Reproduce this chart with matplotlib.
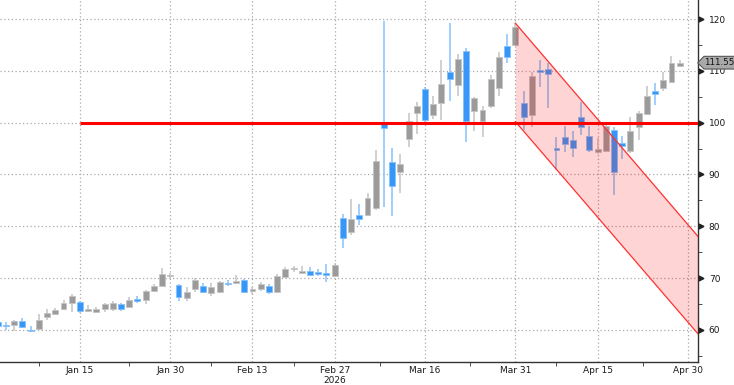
import matplotlib
matplotlib.use("Agg")
import matplotlib.pyplot as plt
from matplotlib.patches import Polygon

# daily OHLC, one entry per trading day (Jan 1 .. Apr 29, 2026)
opens = [61.5, 60.95, 60.9, 61.7, 59.95, 60.2, 62.5, 63.1, 64.0, 65.3,
         65.4, 63.6, 63.5, 64.0, 64.0, 65.1, 64.5, 66.0, 65.7, 67.6,
         68.5, 70.35, 68.7, 66.1, 68.0, 68.5, 67.2, 67.3, 69.1, 69.1,
         69.6, 67.5, 68.0, 68.5, 67.3, 70.3, 71.75, 71.0, 71.4, 71.2,
         71.0, 70.5, 81.55, 79.0, 82.1, 82.2, 83.5, 99.9, 92.5, 90.4,
         96.9, 101.8, 106.55, 101.4, 103.8, 109.7, 107.2, 113.8, 102.3, 100.3,
         103.3, 106.6, 114.7, 115.0, 103.7, 101.5, 110.1, 110.35, 95.05, 97.2,
         96.7, 101.0, 97.5, 94.3, 94.6, 98.5, 96.0, 94.6, 99.2, 101.7,
         106.2, 106.6, 107.9, 110.9]
highs = [61.7, 61.6, 61.9, 62.3, 60.8, 63.0, 64.0, 64.3, 65.8, 66.9,
         65.65, 64.8, 64.4, 65.2, 65.5, 65.3, 66.3, 66.6, 67.7, 68.8,
         72.0, 70.9, 68.9, 68.2, 70.0, 69.0, 69.0, 69.5, 69.6, 70.7,
         69.8, 68.2, 69.2, 68.8, 70.8, 72.2, 72.4, 72.4, 72.1, 71.7,
         72.7, 73.0, 82.4, 85.2, 84.4, 86.5, 94.7, 119.6, 95.2, 93.9,
         101.9, 104.05, 106.8, 105.1, 112.0, 119.2, 113.25, 114.5, 104.9, 103.3,
         109.2, 113.6, 117.1, 119.2, 106.1, 109.7, 112.0, 111.6, 97.3, 99.45,
         98.3, 104.05, 99.45, 97.0, 99.6, 99.1, 97.4, 101.0, 102.3, 107.0,
         107.6, 109.7, 112.9, 112.1]
lows = [60.6, 59.9, 59.8, 60.4, 59.7, 60.0, 61.9, 62.9, 63.8, 63.5,
        63.3, 63.4, 63.3, 63.5, 63.7, 63.6, 64.3, 65.3, 65.0, 67.4,
        68.4, 70.0, 65.5, 65.5, 67.4, 67.1, 66.6, 67.1, 68.5, 68.9,
        67.1, 67.0, 67.6, 66.9, 67.1, 70.1, 71.2, 70.8, 70.5, 70.4,
        69.3, 70.3, 75.8, 78.4, 80.2, 81.9, 83.2, 83.8, 81.95, 86.5,
        95.4, 97.8, 100.2, 100.8, 100.6, 104.1, 105.2, 96.2, 98.3, 97.3,
        102.9, 105.1, 111.6, 114.8, 98.6, 99.1, 106.9, 102.8, 90.9, 94.4,
        93.4, 97.6, 94.3, 93.9, 94.3, 86.1, 92.9, 94.2, 96.6, 101.4,
        103.5, 106.2, 107.7, 110.7]
closes = [60.8, 60.75, 61.7, 60.6, 59.8, 62.0, 63.3, 63.8, 65.3, 66.6,
          63.6, 64.1, 64.0, 65.0, 65.2, 64.0, 65.8, 65.5, 67.5, 68.4,
          70.8, 70.45, 66.4, 67.4, 69.6, 67.4, 68.2, 69.3, 68.8, 69.5,
          67.4, 67.85, 68.8, 67.4, 70.4, 71.7, 71.85, 71.4, 70.7, 70.8,
          70.6, 72.5, 77.7, 81.35, 81.35, 85.5, 92.7, 99.0, 87.8, 92.0,
          100.3, 103.2, 100.5, 103.6, 107.5, 108.5, 112.2, 100.4, 104.8, 102.4,
          108.5, 112.6, 112.7, 118.4, 101.1, 109.1, 109.8, 109.3, 94.8, 95.9,
          95.2, 99.2, 94.7, 94.9, 99.4, 90.4, 95.5, 98.4, 101.9, 105.1,
          105.5, 108.2, 111.45, 111.55]
last_price = 111.55

# date axis (trading-day index)
tick_pos = [10, 21, 31, 41, 52, 63, 73, 84]
tick_labels = ["Jan 15", "Jan 30", "Feb 13", "Feb 27", "Mar 16", "Mar 31", "Apr 15", "Apr 30"]
minor_pos = [5, 16, 26, 36, 46.5, 57.5, 68, 78.5]
year_pos, year_label = 41, "2026"

# annotations
level = 100
level_start = 10
chan_x = [63, 85.2]
chan_upper = [119.2, 78.1]
chan_lower = [100.2, 59.3]

y_ticks = [60, 70, 80, 90, 100, 110, 120]
y_minor = [55, 65, 75, 85, 95, 105, 115]

UP_BODY, UP_WICK = "#9b9b9b", "#c4c4c4"
DN_BODY, DN_WICK = "#3797f7", "#86c1fb"

fig = plt.figure(figsize=(7.34, 3.85), dpi=100)
ax = fig.add_axes([0.0, 1 - 362 / 385, 697.7 / 734, 362 / 385])

idx = list(range(len(opens)))
up = [c >= o for o, c in zip(opens, closes)]
bottoms = [min(o, c) for o, c in zip(opens, closes)]
heights = [max(abs(c - o), 0.18) for o, c in zip(opens, closes)]
body_cols = [UP_BODY if u else DN_BODY for u in up]
wick_cols = [UP_WICK if u else DN_WICK for u in up]

ax.vlines(idx, lows, highs, colors=wick_cols, linewidth=1.1, zorder=2)
ax.bar(idx, heights, bottom=bottoms, width=0.72, color=body_cols,
       edgecolor=wick_cols, linewidth=0.6, zorder=3)

# falling channel
ax.fill_between(chan_x, chan_lower, chan_upper, color="#ff0000", alpha=0.17,
                linewidth=0, zorder=4)
ax.plot(chan_x, chan_upper, color="#ff3030", lw=0.9, zorder=5)
ax.plot(chan_x, chan_lower, color="#ff3030", lw=0.9, zorder=5)

# 100 level
ax.hlines(level, level_start, 86, colors="#ff0000", linewidth=2.2, zorder=6)

ax.set_xlim(0.27, 85.19)
ax.set_ylim(53.82, 123.67)

ax.set_xticks(tick_pos)
ax.set_xticklabels(tick_labels)
ax.set_xticks(minor_pos, minor=True)
ax.set_yticks(y_ticks)
ax.set_yticks(y_minor, minor=True)
ax.yaxis.tick_right()

ax.grid(True, which="major", color="#a8a8a8", linestyle=(0, (1, 2)), linewidth=0.9, zorder=0)
ax.set_axisbelow(True)

for s in ["left", "top"]:
    ax.spines[s].set_visible(False)
for s in ["bottom", "right"]:
    ax.spines[s].set_color("#333333")
    ax.spines[s].set_linewidth(1.0)

ax.tick_params(axis="x", which="major", length=0, pad=3, labelsize=6.5, labelcolor="#1a1a1a")
ax.tick_params(axis="x", which="minor", length=3, color="#333333")
ax.tick_params(axis="y", which="major", length=0, pad=8, labelsize=6.5, labelcolor="#1a1a1a")
ax.tick_params(axis="y", which="minor", length=3, color="#333333")

# arrow-like major ticks on the right axis
ax.plot([1.005] * len(y_ticks), y_ticks, marker=">", ms=3.5, ls="none", color="#222222",
        transform=ax.get_yaxis_transform(), clip_on=False, zorder=7)

ax.text(year_pos, -0.052, year_label, transform=ax.get_xaxis_transform(),
        ha="center", va="center", fontsize=6.5, color="#1a1a1a")

# last price tag (drawn on top of the 110 label, which stays partly visible)
tr = ax.get_yaxis_transform()
tag = Polygon([(1.0, last_price), (1.009, last_price + 1.25), (1.053, last_price + 1.25),
               (1.053, last_price - 1.2), (1.009, last_price - 1.2)], closed=True,
              transform=tr, clip_on=False, facecolor="#a9a9a9", edgecolor="#555555",
              linewidth=0.8, zorder=8)
ax.add_patch(tag)
ax.text(1.031, last_price + 0.05, f"{last_price:.2f}", transform=tr, ha="center", va="center",
        fontsize=6.3, color="#111111", zorder=9, clip_on=False)

fig.savefig("out.png", dpi=100)
